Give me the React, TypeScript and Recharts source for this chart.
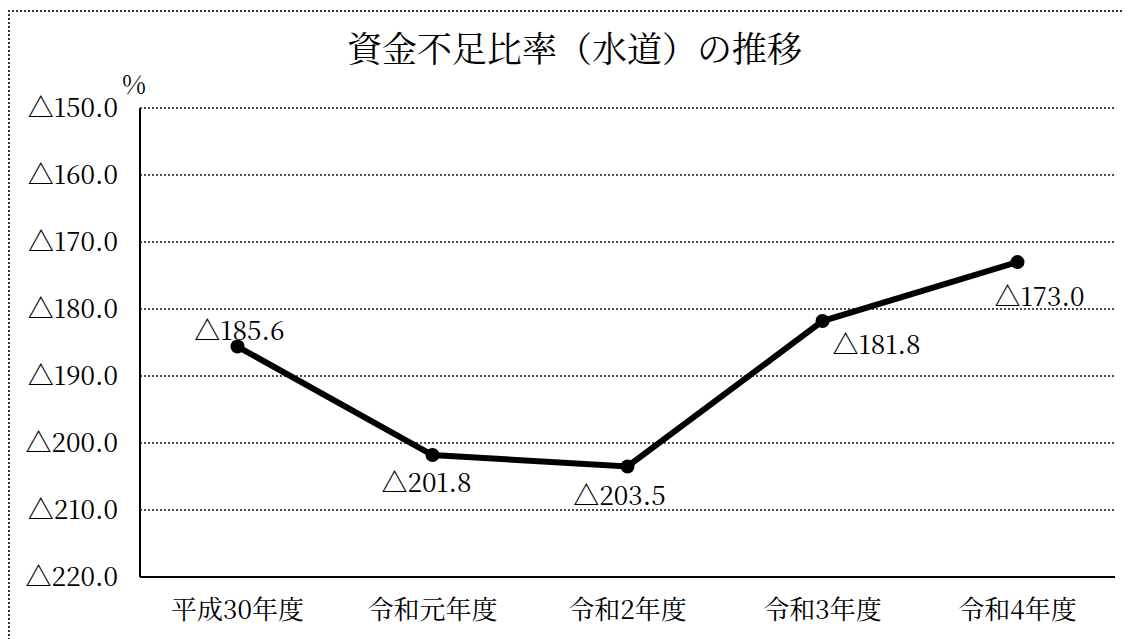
import React from 'react';
import { LineChart, Line, XAxis, YAxis, CartesianGrid, LabelList } from 'recharts';

// Fiscal years on the horizontal axis
const categories = ['平成30年度', '令和元年度', '令和2年度', '令和3年度', '令和4年度'];
// Funding shortfall ratio (water supply), negative values shown with △
const ratioValues = [-185.6, -201.8, -203.5, -181.8, -173.0];
// Vertical axis ticks
const yTicks = [-150, -160, -170, -180, -190, -200, -210, -220];

const data = categories.map((name, i) => ({ name, value: ratioValues[i] }));

const FONT = "'Noto Serif CJK JP', 'Liberation Serif', serif";
const fmt = (v: number) => '△' + Math.abs(v).toFixed(1);

// Placement of each data label relative to its point
const labelOffsets = [
  { dx: 2, dy: -18 },
  { dx: -6, dy: 25 },
  { dx: -8, dy: 27 },
  { dx: 54, dy: 21 },
  { dx: 22, dy: 32 },
];

const ValueLabel = (props: any) => {
  const { x, y, value, index } = props;
  const off = labelOffsets[index] || { dx: 0, dy: 0 };
  return (
    <text
      x={x + off.dx}
      y={y + off.dy}
      textAnchor="middle"
      dominantBaseline="central"
      fontSize={26}
      style={{ fontFamily: FONT }}
      fill="#000"
    >
      {fmt(value)}
    </text>
  );
};

const tickStyle = { fill: '#000', fontSize: 26, style: { fontFamily: FONT } };

export default function App() {
  return (
    <div style={{ position: 'relative', width: 1131, height: 639 }}>
      <style>{`html,body{overflow:hidden;}`}</style>
      <div
        style={{
          position: 'absolute',
          left: 0,
          top: 2,
          width: 1140,
          height: 660,
          borderLeft: '2px dotted #333',
          borderTop: '2px dotted #333',
        }}
      />
      <div
        style={{
          position: 'absolute',
          left: 0,
          top: 19,
          width: 1133,
          textAlign: 'center',
          fontFamily: FONT,
          fontSize: 35,
          color: '#000',
          lineHeight: '40px',
        }}
      >
        資金不足比率（水道）の推移
      </div>
      <div
        style={{
          position: 'absolute',
          left: 114,
          top: 60,
          fontFamily: FONT,
          fontSize: 26,
          color: '#000',
          lineHeight: '30px',
        }}
      >
        %
      </div>
      <div style={{ position: 'absolute', left: 2, top: 4 }}>
        <LineChart
          width={1121}
          height={627}
          data={data}
          margin={{ top: 96, right: 16, bottom: 0, left: 0 }}
        >
          <CartesianGrid
            vertical={false}
            stroke="#111"
            strokeWidth={1.5}
            strokeDasharray="2 2"
          />
          <XAxis
            dataKey="name"
            height={62}
            padding={{ left: 97.5, right: 97.5 }}
            axisLine={{ stroke: '#000', strokeWidth: 2 }}
            tickLine={false}
            tickSize={0}
            tickMargin={24}
            tick={tickStyle}
            interval={0}
          />
          <YAxis
            width={130}
            domain={[-220, -150]}
            ticks={yTicks}
            interval={0}
            tickFormatter={fmt}
            axisLine={{ stroke: '#000', strokeWidth: 2 }}
            tickLine={false}
            tickSize={0}
            tickMargin={22}
            tick={tickStyle}
          />
          <Line
            type="linear"
            dataKey="value"
            stroke="#000"
            strokeWidth={6}
            dot={{ r: 7, fill: '#000', stroke: 'none' }}
            activeDot={false}
            isAnimationActive={false}
          >
            <LabelList dataKey="value" content={ValueLabel} />
          </Line>
        </LineChart>
      </div>
    </div>
  );
}
